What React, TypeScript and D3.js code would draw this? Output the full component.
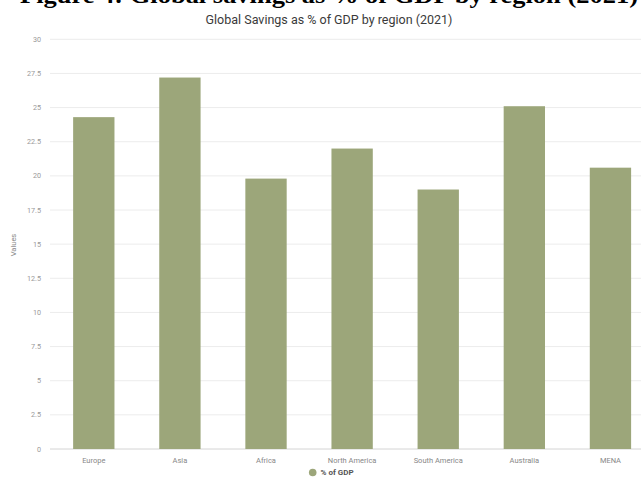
import React from "react";
import * as d3 from "d3";

const regions: string[] = ["Europe", "Asia", "Africa", "North America", "South America", "Australia", "MENA"];
const savingsPct: number[] = [24.3, 27.2, 19.8, 22.0, 19.0, 25.1, 20.6];
const yTicks: number[] = [0, 2.5, 5, 7.5, 10, 12.5, 15, 17.5, 20, 22.5, 25, 27.5, 30];

const W = 641;
const H = 485;
const BAR = "#9ca67a";
const SANS = "Roboto, 'Noto Sans', Arial, sans-serif";

export default function App() {
  const y = d3.scaleLinear().domain([0, 30]).range([449, 39.3]);
  const x = d3
    .scaleBand<string>()
    .domain(regions)
    .range([50.75, 653.5])
    .paddingInner(0.52)
    .paddingOuter(0.26);

  return (
    <svg
      width={W}
      height={H}
      viewBox={`0 0 ${W} ${H}`}
      style={{ position: "absolute", left: 0, top: 0, background: "#fff" }}
    >
      <text
        x={20}
        y={3}
        fontFamily="'Liberation Serif', 'Times New Roman', serif"
        fontWeight="bold"
        fontSize={24}
        fill="#000"
        textLength={618}
        lengthAdjust="spacingAndGlyphs"
      >
        Figure 4: Global savings as % of GDP by region (2021)
      </text>
      <text x={329} y={24} textAnchor="middle" fontFamily={SANS} fontSize={12.5} fill="#3a3a3a">
        Global Savings as % of GDP by region (2021)
      </text>

      {yTicks.map((t) => (
        <g key={t}>
          <line
            x1={50}
            x2={W}
            y1={y(t)}
            y2={y(t)}
            stroke={t === 0 ? "#d4d4d4" : "#ececec"}
            strokeWidth={1}
          />
          <text
            x={41}
            y={y(t)}
            dy="0.35em"
            textAnchor="end"
            fontFamily={SANS}
            fontSize={7.2}
            fill="#999"
          >
            {t}
          </text>
        </g>
      ))}

      <text
        transform="translate(16,245) rotate(-90)"
        textAnchor="middle"
        fontFamily={SANS}
        fontSize={7.5}
        fill="#888"
      >
        Values
      </text>

      {regions.map((r, i) => (
        <g key={r}>
          <rect
            x={x(r)}
            y={y(savingsPct[i])}
            width={x.bandwidth()}
            height={y(0) - y(savingsPct[i])}
            fill={BAR}
          />
          <text
            x={(x(r) ?? 0) + x.bandwidth() / 2}
            y={460.5}
            dy="0.35em"
            textAnchor="middle"
            fontFamily={SANS}
            fontSize={7.5}
            fill="#888"
          >
            {r}
          </text>
        </g>
      ))}

      <circle cx={312.7} cy={472.5} r={3.8} fill={BAR} />
      <text
        x={320.5}
        y={472.5}
        dy="0.35em"
        fontFamily={SANS}
        fontWeight="bold"
        fontSize={8}
        fill="#555"
      >
        % of GDP
      </text>
    </svg>
  );
}
